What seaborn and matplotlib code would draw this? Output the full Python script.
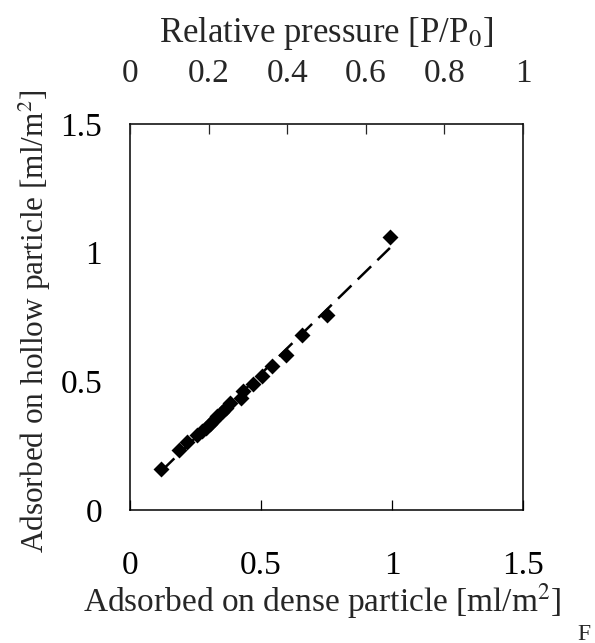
import numpy as np
import pandas as pd
import matplotlib
matplotlib.use("Agg")
import matplotlib.pyplot as plt
import seaborn as sns

# data
dense = [0.118, 0.188, 0.216, 0.257, 0.274, 0.290, 0.305, 0.321, 0.333, 0.350,
         0.366, 0.382, 0.422, 0.430, 0.468, 0.505, 0.543, 0.595, 0.656, 0.751, 0.992]
hollow = [0.160, 0.233, 0.266, 0.290, 0.306, 0.319, 0.336, 0.349, 0.364, 0.380,
          0.397, 0.416, 0.436, 0.461, 0.491, 0.519, 0.561, 0.602, 0.680, 0.759, 1.062]

x_ticks = [0, 0.5, 1, 1.5]
x_tick_labels = ["0", "0.5", "1", "1.5"]
y_ticks = [0, 0.5, 1, 1.5]
y_tick_labels = ["0", "0.5", "1", "1.5"]
top_ticks = [0, 0.2, 0.4, 0.6, 0.8, 1]
top_tick_labels = ["0", "0.2", "0.4", "0.6", "0.8", "1"]

df = pd.DataFrame({"dense": dense, "hollow": hollow})

# linear trend (dashed line)
coef = np.polyfit(df["dense"], df["hollow"], 1)
fit_x = np.linspace(df["dense"].min(), df["dense"].max(), 50)
fit = pd.DataFrame({"x": fit_x, "y": np.polyval(coef, fit_x)})

sns.set_style("white")
plt.rcParams["font.family"] = ["Liberation Serif", "DejaVu Serif"]
plt.rcParams["mathtext.fontset"] = "stix"

fig = plt.figure(figsize=(5.95, 6.43), dpi=100)
ax = fig.add_axes([130 / 595, 1 - 510 / 643, 393 / 595, 386 / 643])

sns.lineplot(data=fit, x="x", y="y", ax=ax, color="black", lw=1.8,
             dashes=False, linestyle=(0, (7.5, 3.5)))
sns.scatterplot(data=df, x="dense", y="hollow", ax=ax, marker="D", s=66,
                color="black", edgecolor="black", linewidth=0, zorder=3)

ax.set_xlim(0, 1.5)
ax.set_ylim(0, 1.5)
ax.set_xticks(x_ticks)
ax.set_xticklabels(x_tick_labels)
ax.set_yticks(y_ticks)
ax.set_yticklabels(y_tick_labels)
ax.tick_params(direction="in", length=7, width=0.9, labelsize=24, colors="black")
ax.tick_params(axis="x", pad=29)
ax.tick_params(axis="y", pad=20)
for s in ax.spines.values():
    s.set_visible(True)
    s.set_linewidth(1.1)
    s.set_color("black")

ax.set_xlabel(r"Adsorbed on dense particle [ml/m$^2$]", fontsize=24)
ax.set_ylabel(r"Adsorbed on hollow particle [ml/m$^2$]", fontsize=22.5)
ax.xaxis.set_label_coords(0.49, -0.185)
ax.yaxis.set_label_coords(-0.195, 0.49)

# top axis for relative pressure
top = ax.twiny()
top.set_xlim(0, 1)
top.set_xticks(top_ticks)
top.set_xticklabels(top_tick_labels)
top.tick_params(direction="in", length=7, width=0.9, labelsize=24, pad=25)
top.set_xlabel(r"Relative pressure [P/P$_0$]", fontsize=25)
top.xaxis.set_label_coords(0.5, 1.212)
for s in top.spines.values():
    s.set_visible(False)

fig.text(584 / 595, 1 - 624 / 643, "F", fontsize=17, ha="center", va="top")

fig.savefig("out.png", dpi=100)
